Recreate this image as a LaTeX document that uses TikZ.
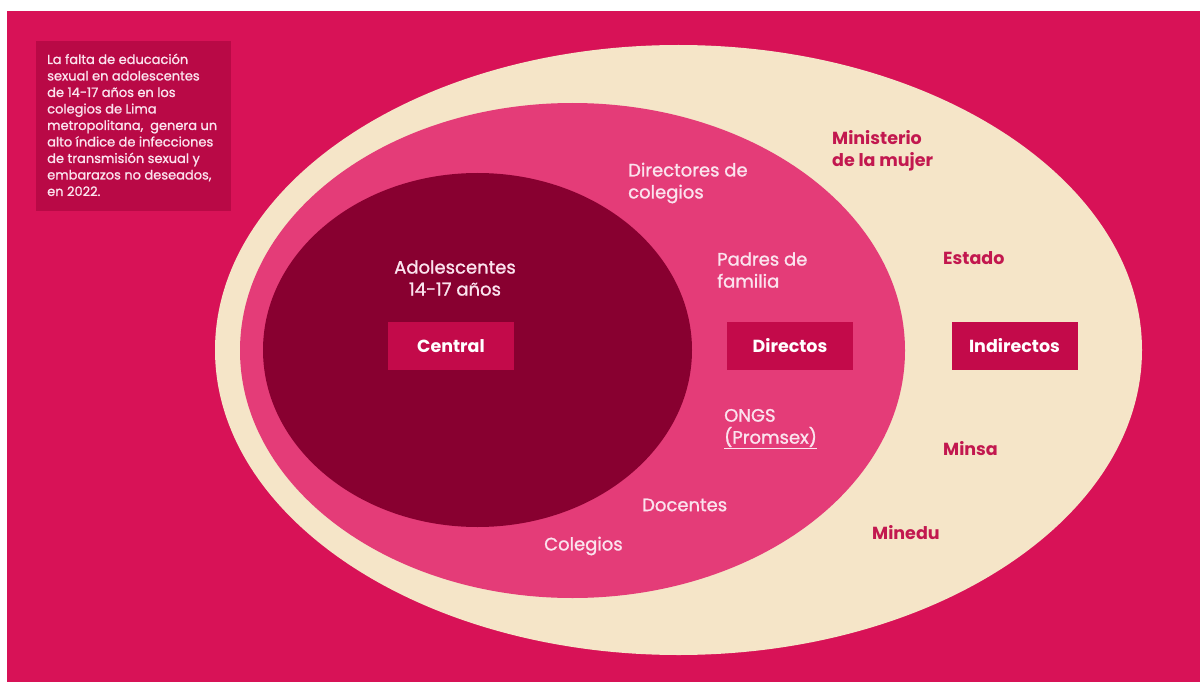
\documentclass[tikz,border=0pt]{standalone}
\usepackage{fontspec}
\setmainfont{Poppins}
\newfontfamily\popmed[RawFeature={embolden=1.2}]{Poppins}
\definecolor{bgpink}{HTML}{D81257}
\definecolor{cream}{HTML}{F5E5C8}
\definecolor{midpink}{HTML}{E43C78}
\definecolor{darkred}{HTML}{880030}
\definecolor{boxred}{HTML}{C30A4A}
\definecolor{lighttext}{HTML}{FBE3EE}
\definecolor{creamtext}{HTML}{C2184F}
\tikzset{
  lbl/.style={inner sep=0pt, anchor=west, align=left, text=lighttext, font=\popmed\fontsize{18}{22}\selectfont},
  clbl/.style={inner sep=0pt, anchor=west, align=left, text=creamtext, font=\fontsize{17.5}{22}\selectfont\bfseries},
  catbox/.style={fill=boxred, text=white, minimum width=126pt, minimum height=48pt, inner sep=0pt, font=\fontsize{17.5}{22}\selectfont\bfseries},
}
\begin{document}
\begin{tikzpicture}[x=1pt,y=-1pt]
\useasboundingbox (0,0) rectangle (1200,682);
\fill[white] (0,0) rectangle (1200,682);
\fill[bgpink] (7,11) rectangle (1200,682);
% problem statement box
\fill[boxred!95!black] (36,41) rectangle (231,211);
\node[inner sep=0pt, anchor=north west, align=left, text=lighttext, font=\popmed\fontsize{13}{16.5}\selectfont] (problem) at (47,53.5)
 {La falta de educación\\sexual en adolescentes\\de 14-17 años en los\\colegios de Lima\\metropolitana,\ \ genera un\\alto índice de infecciones\\de transmisión sexual y\\embarazos no deseados,\\en 2022.};
% ellipses
\fill[cream] (678.5,350) ellipse [x radius=463.5, y radius=305];
\fill[midpink] (572.5,350.5) ellipse [x radius=332.5, y radius=247.5];
\fill[darkred] (477.5,350) ellipse [x radius=214.5, y radius=177];
% category boxes
\node[catbox] (central) at (451,346) {Central};
\node[catbox] (directos) at (790,346) {Directos};
\node[catbox] (indirectos) at (1014.5,346) {Indirectos};
% central labels
\node[lbl, anchor=center, align=center] (adol) at (455,278) {Adolescentes\\14-17 años};
% direct labels
\node[lbl] (directores) at (628,183) {Directores de\\colegios};
\node[lbl] (padres) at (717,270) {Padres de\\familia};
\node[lbl] (ongs) at (724,429) {ONGS\\\underline{(Promsex)}};
\node[lbl] (docentes) at (642,505) {Docentes};
\node[lbl] (colegios) at (544,546) {Colegios};
% indirect labels
\node[clbl] (ministerio) at (832,151) {Ministerio\\de la mujer};
\node[clbl] (estado) at (943,258) {Estado};
\node[clbl] (minsa) at (943,449) {Minsa};
\node[clbl] (minedu) at (872,533) {Minedu};
\end{tikzpicture}
\end{document}
